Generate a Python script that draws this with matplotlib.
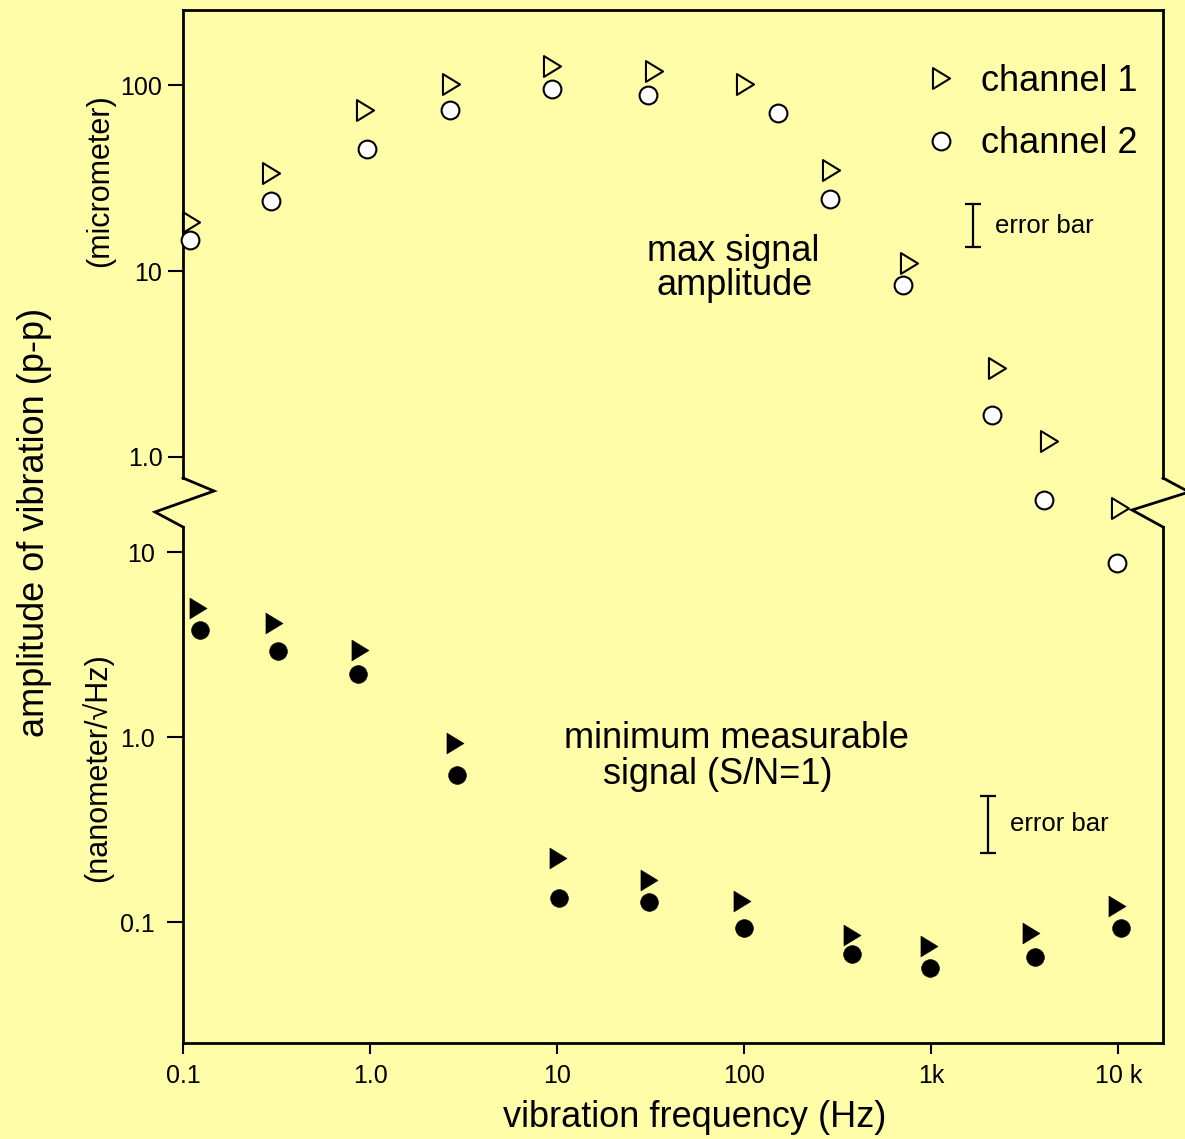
import matplotlib
matplotlib.use('Agg')
import matplotlib.pyplot as plt
from matplotlib.path import Path
from matplotlib.lines import Line2D
from matplotlib.ticker import NullLocator

plt.rcParams['font.family'] = ['Liberation Sans', 'DejaVu Sans']

# ---------------- data ----------------
# max signal amplitude (micrometer, p-p)
freq_max_ch1 = [0.110, 0.296, 0.936, 2.70, 9.41, 32.8, 100.5, 290, 756, 2247, 4278, 10210]
amp_max_ch1 = [18.45, 33.9, 73.4, 101.2, 127.5, 119.4, 101.2, 35.0, 11.0, 3.02, 1.22, 0.530]
freq_max_ch2 = [0.109, 0.295, 0.966, 2.68, 9.38, 30.7, 152, 288, 708, 2108, 3998, 9817]
amp_max_ch2 = [14.7, 23.8, 45.3, 73.4, 95.2, 88.7, 71.2, 24.4, 8.42, 1.69, 0.587, 0.270]

# minimum measurable signal (nanometer/sqrt(Hz))
freq_min_ch1 = [0.120, 0.307, 0.883, 2.84, 10.1, 31.0, 97.2, 376, 971, 3406, 9817]
amp_min_ch1 = [4.99, 4.14, 2.96, 0.931, 0.223, 0.170, 0.131, 0.0856, 0.0747, 0.0878, 0.123]
freq_min_ch2 = [0.123, 0.322, 0.861, 2.91, 10.2, 31.0, 99.6, 376, 983, 3579, 10310]
amp_min_ch2 = [3.79, 2.92, 2.19, 0.625, 0.136, 0.129, 0.0934, 0.0676, 0.0568, 0.0651, 0.0934]

series_labels = ['channel 1', 'channel 2']

x_ticks = [0.1, 1, 10, 100, 1000, 10000]
x_tick_labels = ['0.1', '1.0', '10', '100', '1k', '10 k']
y_ticks_um = [1, 10, 100]
y_tick_labels_um = ['1.0', '10', '100']
y_ticks_nm = [0.1, 1, 10]
y_tick_labels_nm = ['0.1', '1.0', '10']

# representative error bars: [upper panel, lower panel]
errbar_freq = [1663, 2007]
errbar_center = [17.7, 0.338]
errbar_low = [13.56, 0.2372]
errbar_high = [23.1, 0.4816]

# ---------------- figure ----------------
W, H = 1185, 1139
BG = '#FFFDA8'
fig = plt.figure(figsize=(W / 100, H / 100), dpi=100, facecolor=BG)


def fx(px):
    return px / W


def fy(py):
    return 1 - py / H


L, R = 183, 1163
ax_top = fig.add_axes([fx(L), fy(478), fx(R) - fx(L), fy(10) - fy(478)])
ax_bot = fig.add_axes([fx(L), fy(1043), fx(R) - fx(L), fy(527) - fy(1043)])

SPINE_W = 2.0
for ax in (ax_top, ax_bot):
    ax.set_facecolor('none')
    ax.set_xscale('log')
    ax.set_yscale('log')
    ax.set_xlim(0.1, 17300)
    for s in ax.spines.values():
        s.set_linewidth(SPINE_W)

ax_top.set_ylim(0.7706, 254.3)
ax_bot.set_ylim(0.02236, 13.65)

ax_top.spines['bottom'].set_visible(False)
ax_bot.spines['top'].set_visible(False)

TICK_FS = 18
ax_top.tick_params(axis='x', which='both', bottom=False, labelbottom=False, top=False)
ax_top.set_yticks(y_ticks_um, y_tick_labels_um)
ax_top.tick_params(axis='y', direction='out', length=10.8, width=1.5, pad=4, labelsize=TICK_FS)

ax_bot.set_yticks(y_ticks_nm, y_tick_labels_nm)
ax_bot.tick_params(axis='y', direction='out', length=11.5, width=1.5, pad=8.5, labelsize=TICK_FS)
ax_bot.set_xticks(x_ticks, x_tick_labels)
ax_bot.tick_params(axis='x', direction='out', length=8, width=1.5, pad=7, labelsize=TICK_FS)
for ax in (ax_top, ax_bot):
    ax.xaxis.set_minor_locator(NullLocator())
    ax.yaxis.set_minor_locator(NullLocator())

# markers
tri = Path([(-0.82, -1.0), (0.82, 0.0), (-0.82, 1.0), (-0.82, -1.0)], closed=True)

h1, = ax_top.plot(freq_max_ch1, amp_max_ch1, ls='none', marker=tri, ms=15,
                  mfc='none', mec='k', mew=1.5, clip_on=False, zorder=5)
h2, = ax_top.plot(freq_max_ch2, amp_max_ch2, ls='none', marker='o', ms=12.8,
                  mfc='white', mec='k', mew=1.5, clip_on=False, zorder=5)
ax_bot.plot(freq_min_ch1, amp_min_ch1, ls='none', marker=tri, ms=15,
            mfc='k', mec='k', mew=0.4, clip_on=False, zorder=5)
ax_bot.plot(freq_min_ch2, amp_min_ch2, ls='none', marker='o', ms=12.8,
            mfc='k', mec='k', mew=0.4, clip_on=False, zorder=5)

# representative error bars
for ax, xf, yc, lo, hi in zip((ax_top, ax_bot), errbar_freq, errbar_center, errbar_low, errbar_high):
    ax.errorbar([xf], [yc], yerr=[[yc - lo], [hi - yc]], fmt='none', ecolor='k',
                elinewidth=1.6, capsize=6, capthick=1.6, clip_on=False)

fig.text(fx(995), fy(233), 'error bar', ha='left', va='baseline', fontsize=18.5)
fig.text(fx(1010), fy(831), 'error bar', ha='left', va='baseline', fontsize=18.5)

BIG = 26
# legend
ax_top.legend(handles=[h1, h2], labels=series_labels, loc='center left',
              bbox_to_anchor=(fx(923), fy(112.5)), bbox_transform=fig.transFigure,
              frameon=False, fontsize=BIG, handlelength=1.0, handletextpad=0.607,
              labelspacing=0.76, borderpad=0, borderaxespad=0, numpoints=1)

# annotations
fig.text(fx(733), fy(261), 'max signal', ha='center', va='baseline', fontsize=BIG)
fig.text(fx(734.5), fy(295), 'amplitude', ha='center', va='baseline', fontsize=BIG)
fig.text(fx(736.5), fy(748), 'minimum measurable', ha='center', va='baseline', fontsize=BIG)
fig.text(fx(718), fy(784), 'signal (S/N=1)', ha='center', va='baseline', fontsize=BIG)

# axis labels
ax_bot.set_xlabel('vibration frequency (Hz)', fontsize=BIG)
ax_bot.xaxis.label.set_verticalalignment('baseline')
ax_bot.xaxis.set_label_coords((695 - L) / (R - L), (1043 - 1127) / (1043 - 527))

ax_top.set_ylabel('(micrometer)', fontsize=22)
ax_top.yaxis.label.set_verticalalignment('center')
ax_top.yaxis.set_label_coords((100.5 - L) / (R - L), (478 - 181) / (478 - 10))

ax_bot.set_ylabel('(nanometer/\u221aHz)', fontsize=22)
ax_bot.yaxis.label.set_verticalalignment('center')
ax_bot.yaxis.set_label_coords((97.6 - L) / (R - L), (1043 - 768) / (1043 - 527))

fig.text(fx(35), fy(522), 'amplitude of vibration (p-p)', rotation=90,
         ha='center', va='center', fontsize=BIG)

# axis break marks (zigzags)
fig.add_artist(Line2D([fx(183), fx(214), fx(155), fx(183)],
                      [fy(478), fy(491), fy(512), fy(527)],
                      transform=fig.transFigure, color='k', lw=SPINE_W,
                      solid_joinstyle='miter'))
fig.add_artist(Line2D([fx(1163), fx(1189), fx(1132), fx(1163)],
                      [fy(478), fy(492), fy(510), fy(527)],
                      transform=fig.transFigure, color='k', lw=SPINE_W,
                      solid_joinstyle='miter'))

fig.savefig('out.png', dpi=100, facecolor=BG)
